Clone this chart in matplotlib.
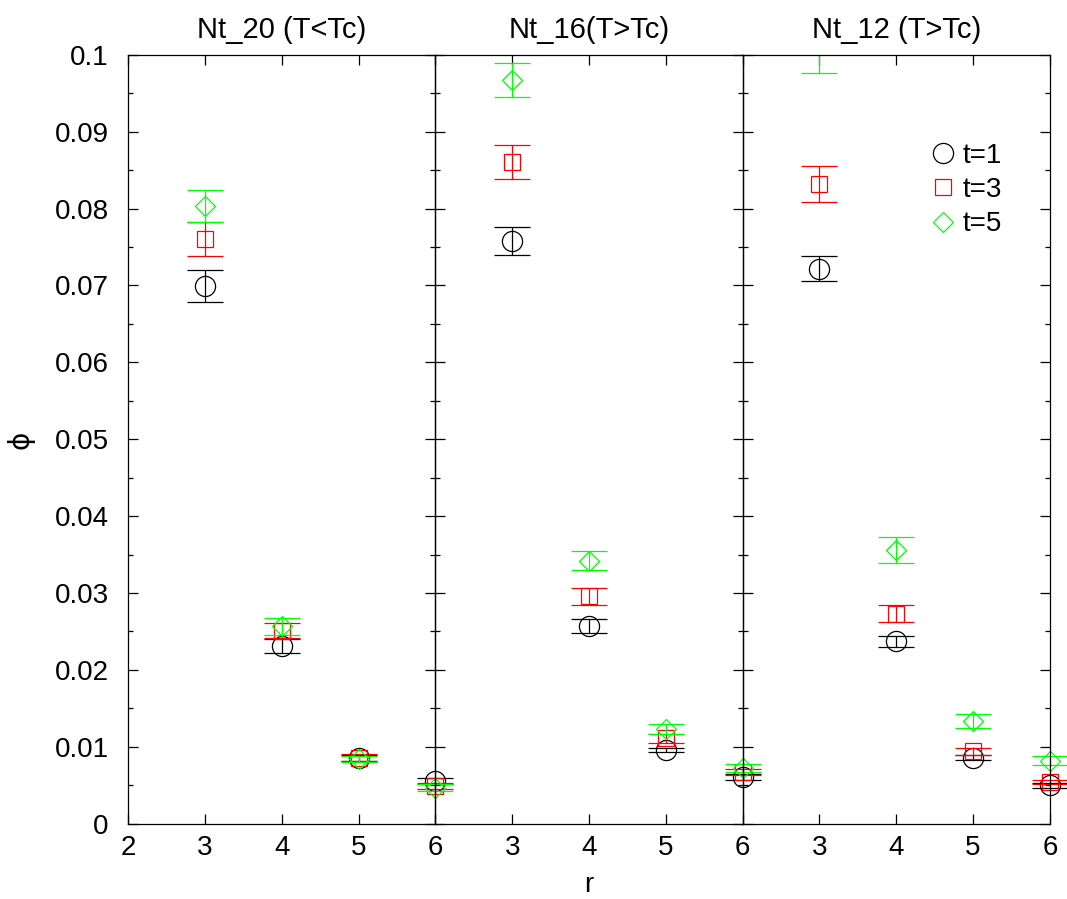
import numpy as np
import matplotlib
matplotlib.use("Agg")
import matplotlib.pyplot as plt
from matplotlib.transforms import Bbox, TransformedBbox

# =========================
# 데이터
# =========================
r = [3, 4, 5, 6]

labels = ["t=1", "t=3", "t=5"]

titles = ["Nt_20 (T<Tc)", "Nt_16(T>Tc)", "Nt_12 (T>Tc)"]

nt20_t1 = [0.0699, 0.0231, 0.0085, 0.0055]
nt20_t1_err = [0.0021, 0.0009, 0.0004, 0.0004]
nt20_t3 = [0.0761, 0.0251, 0.0086, 0.0049]
nt20_t3_err = [0.0022, 0.0010, 0.0005, 0.0004]
nt20_t5 = [0.0803, 0.0257, 0.0084, 0.0047]
nt20_t5_err = [0.0021, 0.0011, 0.0004, 0.0004]

nt16_t1 = [0.0758, 0.0257, 0.0096, 0.0061]
nt16_t1_err = [0.0018, 0.0009, 0.0003, 0.0004]
nt16_t3 = [0.0861, 0.0296, 0.0111, 0.0067]
nt16_t3_err = [0.0022, 0.0011, 0.0006, 0.0004]
nt16_t5 = [0.0967, 0.0342, 0.0123, 0.0072]
nt16_t5_err = [0.0022, 0.0012, 0.0006, 0.0005]

nt12_t1 = [0.0722, 0.0237, 0.0086, 0.0050]
nt12_t1_err = [0.0016, 0.0007, 0.0003, 0.0003]
nt12_t3 = [0.0832, 0.0273, 0.0094, 0.0054]
nt12_t3_err = [0.0023, 0.0011, 0.0005, 0.0003]
nt12_t5 = [0.1005, 0.0356, 0.0133, 0.0082]
nt12_t5_err = [0.0029, 0.0017, 0.0009, 0.0006]

panels = [
    [(nt20_t1, nt20_t1_err), (nt20_t3, nt20_t3_err), (nt20_t5, nt20_t5_err)],
    [(nt16_t1, nt16_t1_err), (nt16_t3, nt16_t3_err), (nt16_t5, nt16_t5_err)],
    [(nt12_t1, nt12_t1_err), (nt12_t3, nt12_t3_err), (nt12_t5, nt12_t5_err)],
]

# =========================
# 스타일
# =========================
colors = ["black", "#ff0000", "#00ff00"]
markers = ["o", "s", "D"]
msizes = [14.5, 11.5, 10.5]

YMAX = 0.1

plt.rcParams["font.family"] = ["Liberation Sans", "DejaVu Sans"]
plt.rcParams["font.size"] = 20

fig, axes = plt.subplots(1, 3, sharey=True, figsize=(10.67, 8.99), dpi=100)

plt.subplots_adjust(left=0.12, right=0.984, top=0.939, bottom=0.0838, wspace=0)

handles = []

for k, ax in enumerate(axes):

    # 옆 패널이 경계의 점을 덮지 않도록
    ax.patch.set_visible(False)

    # x 방향으로는 잘리지 않고, y 방향으로만 잘리도록
    clip = TransformedBbox(Bbox([[-0.3, 0.0], [1.3, 1.0]]), ax.transAxes)

    for j, (vals, errs) in enumerate(panels[k]):

        vals = np.array(vals)
        errs = np.array(errs)

        eb = ax.errorbar(
            r, vals, yerr=errs,
            fmt="none",
            ecolor=colors[j],
            elinewidth=0.9,
            capsize=13,
            capthick=0.9,
        )

        for art in [*eb.lines[1], *eb.lines[2]]:
            art.set_clip_path(None)
            art.set_clip_box(clip)

        inside = vals <= YMAX
        ln, = ax.plot(
            np.array(r)[inside], vals[inside],
            linestyle="none",
            marker=markers[j],
            markersize=msizes[j],
            markerfacecolor="none",
            markeredgecolor=colors[j],
            markeredgewidth=0.9,
            clip_on=False,
            label=labels[j],
        )

        if k == 0:
            handles.append(ln)

    ax.set_xlim(2, 6)
    ax.set_ylim(0, YMAX)

    if k == 0:
        ax.set_xticks([2, 3, 4, 5, 6])
    else:
        ax.set_xticks([3, 4, 5, 6])

    ax.set_yticks(np.arange(0, 0.1001, 0.01))
    ax.set_yticks(np.arange(0.005, 0.1, 0.01), minor=True)

    ax.tick_params(axis="both", which="both", direction="in",
                   top=True, right=True, width=0.9)
    ax.tick_params(axis="y", which="major", length=7, pad=14)
    ax.tick_params(axis="y", which="minor", length=3.5)
    ax.tick_params(axis="x", which="major", length=7, pad=8)

    for sp in ax.spines.values():
        sp.set_linewidth(0.9)

    ax.set_title(titles[k], fontsize=21, pad=12)

axes[0].yaxis.set_major_formatter(
    matplotlib.ticker.FuncFormatter(lambda v, p: f"{v:.2f}".rstrip("0").rstrip(".") if v != 0 else "0")
)

# =========================
# 축 라벨 / 범례
# =========================
fig.text(0.552, 0.0156, "r", ha="center", va="center", fontsize=20)

fig.text(0.019, 0.511, "ϕ", ha="center", va="center", fontsize=20,
         rotation=90, family=["DejaVu Sans"])

axes[2].legend(
    handles=handles,
    loc="upper left",
    bbox_to_anchor=(0.57, 0.9),
    frameon=False,
    handlelength=1.0,
    handletextpad=0.2,
    labelspacing=0.3,
    borderaxespad=0,
    fontsize=20,
)

plt.savefig("out.png", dpi=100)

plt.close()
